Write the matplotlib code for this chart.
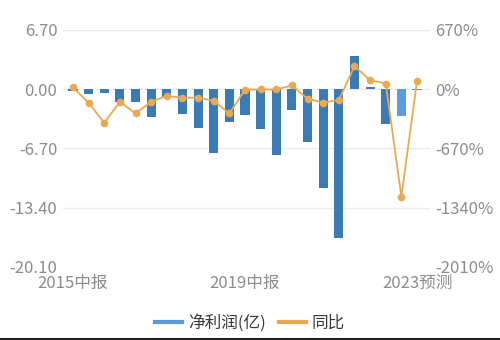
import matplotlib
matplotlib.use("Agg")
import matplotlib.pyplot as plt
from matplotlib.lines import Line2D

plt.rcParams['font.family'] = ['Noto Sans CJK SC', 'DejaVu Sans']

periods = ["2015中报", "2015年报", "2016中报", "2016年报", "2017中报", "2017年报",
           "2018一季报", "2018中报", "2018三季报", "2018年报", "2019一季报", "2019中报",
           "2019三季报", "2019年报", "2020中报", "2020年报", "2021中报", "2021年报",
           "2022中报", "2022年报", "2023一季报", "2023中报", "2023预测"]
net_profit = [-0.26, -0.6, -0.38, -1.5, -1.43, -3.2, -0.9, -2.79, -4.4, -7.23, -3.73, -2.94,
              -4.48, -7.5, -2.3, -6.0, -11.2, -16.8, 3.8, 0.2, -3.9, -3.0, -0.15]
yoy_pct = [19, -155, -380, -143, -275, -143, -75, -98, -95, -132, -275, -5,
           -3, -3, 42, -109, -151, -124, 260, 102, 64, -1217, 94]
bar_colors = ["#3A7BB5"] * 21 + ["#5D9BDF", "#6A8FB5"]
left_ticks = [6.70, 0.00, -6.70, -13.40, -20.10]
right_ticks = [670, 0, -670, -1340, -2010]
tick_positions = [0, 11, 22]

blue = "#5B9BD5"
orange = "#E8A951"
grey_text = "#8C8C8C"
fs = 12

fig = plt.figure(figsize=(5.0, 3.4), dpi=100)
ax = fig.add_axes([0.126, 0.215, 0.734, 0.697])
ax2 = ax.twinx()

x = list(range(len(periods)))
ax.bar(x, net_profit, width=0.58, color=bar_colors, zorder=2)
ax.set_ylim(-20.10, 6.70)
ax.set_yticks(left_ticks)
ax.set_yticklabels([f"{v:.2f}" for v in left_ticks])
ax.set_xlim(-0.64, 22.83)
ax.set_xticks(tick_positions)
ax.set_xticklabels([periods[i] for i in tick_positions])
ax.grid(axis='y', color="#EBEBEB", linewidth=1.0, zorder=0)
ax.set_axisbelow(True)

ax2.plot(x, yoy_pct, color=orange, linewidth=1.3, marker='o', markersize=5.5,
         markeredgewidth=0, zorder=3)
ax2.set_ylim(-2010, 670)
ax2.set_yticks(right_ticks)
ax2.set_yticklabels([f"{v}%" for v in right_ticks])

for a in (ax, ax2):
    for s in a.spines.values():
        s.set_visible(False)
    a.tick_params(length=0, labelsize=fs, colors=grey_text)
ax.tick_params(axis='y', pad=4)
ax2.tick_params(axis='y', pad=4)
ax.tick_params(axis='x', pad=6)

handles = [Line2D([0], [0], color=blue, linewidth=3),
           Line2D([0], [0], color=orange, linewidth=3)]
fig.legend(handles, ["净利润(亿)", "同比"], loc='center', bbox_to_anchor=(0.5, 0.05),
           ncol=2, frameon=False, fontsize=fs, handlelength=1.6, handletextpad=0.35,
           columnspacing=0.8, labelcolor="#3A3A3A")

fig.add_artist(Line2D([0, 1], [0.002, 0.002], color="#222222", linewidth=1.5,
                      transform=fig.transFigure))

fig.savefig("out.png", dpi=100)
